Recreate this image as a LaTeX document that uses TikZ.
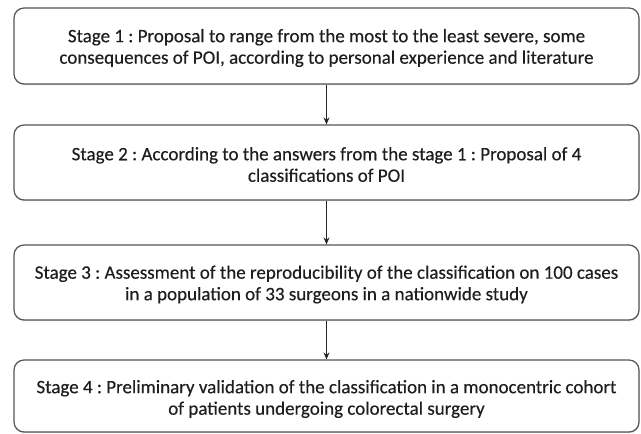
\documentclass[tikz,border=0pt]{standalone}
\usepackage{fontspec}
\setmainfont{Carlito}[FakeBold=0.3]
\frenchspacing
\usetikzlibrary{arrows.meta,shadows}
\definecolor{edgegray}{HTML}{555555}
\definecolor{textgray}{HTML}{1E1E1E}
\begin{document}
\begin{tikzpicture}[x=1pt,y=-1pt,
  stagebox/.style={draw=edgegray, line width=1.2pt, rounded corners=10pt, fill=white,
    minimum width=625pt,
    drop shadow={shadow xshift=0.5pt, shadow yshift=-1.2pt, opacity=0.3}},
  stagetext/.style={align=center, text=textgray, inner sep=0pt,
    font=\fontsize{19}{21.5}\selectfont},
  conn/.style={draw=black!85, line width=1.3pt, -{Stealth[length=7pt,width=6pt]}}]
\useasboundingbox (0,0) rectangle (641,434);
\node[stagebox, minimum height=76pt] (s1) at (326.5,46) {};
\node[stagetext] (t1) at ([yshift=-2pt]s1.center) {Stage 1 : Proposal to range from the most to the least severe, some\\consequences of POI, according to personal experience and literature};
\node[stagebox, minimum height=75pt] (s2) at (326.5,162.5) {};
\node[stagetext] (t2) at ([yshift=-2pt]s2.center) {Stage 2 : According to the answers from the stage 1 : Proposal of 4\\classifications of POI};
\node[stagebox, minimum height=75pt] (s3) at (326.5,282.5) {};
\node[stagetext] (t3) at ([yshift=-2pt]s3.center) {Stage 3 : Assessment of the reproducibility of the classification on 100 cases\\in a population of 33 surgeons in a nationwide study};
\node[stagebox, minimum height=72pt] (s4) at (326.5,396) {};
\node[stagetext] (t4) at ([yshift=-3pt]s4.center) {Stage 4 : Preliminary validation of the classification in a monocentric cohort\\of patients undergoing colorectal surgery};
\draw[conn] (s1.south) -- (s2.north);
\draw[conn] (s2.south) -- (s3.north);
\draw[conn] (s3.south) -- (s4.north);
\end{tikzpicture}
\end{document}
